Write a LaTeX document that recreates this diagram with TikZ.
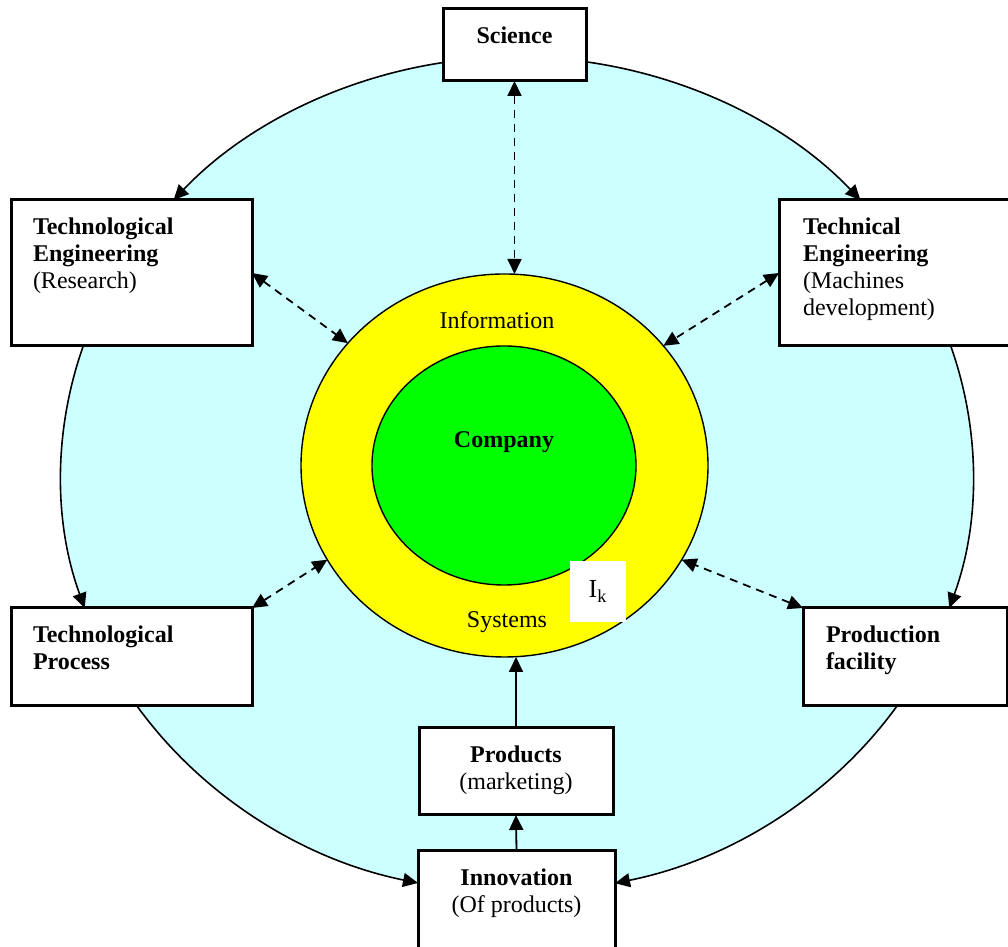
\documentclass[tikz,border=0pt]{standalone}
\usepackage{fontspec}
\setmainfont{Liberation Serif}
\usetikzlibrary{arrows.meta,shapes.geometric}

\definecolor{ringcyan}{RGB}{204,255,255}
\definecolor{infoyellow}{RGB}{255,255,0}
\definecolor{coregreen}{RGB}{0,255,0}

% width, height, alignment, text: first baseline sits 17.5pt under the top edge
\newcommand\boxtext[4]{\parbox[c][#2][t]{#1}{#3\rule{0pt}{17.5pt}#4}}

\begin{document}
\begin{tikzpicture}[x=0.5pt, y=0.5pt,
        font=\fontsize{12}{13.5}\selectfont,
        box/.style={draw, line width=1.5pt, fill=white, inner sep=0pt, outer sep=0pt},
        layer/.style={ellipse, draw, line width=0.7pt, inner sep=0pt, outer sep=0pt},
        loop/.style={line width=0.8pt, -{Triangle[length=7.5pt,width=7pt]}},
        link/.style={line width=0.9pt, dash pattern=on 4pt off 3pt,
            {Triangle[length=7.5pt,width=7pt]}-{Triangle[length=7.5pt,width=7pt]}},
        feed/.style={line width=0.9pt, -{Triangle[length=7.5pt,width=7pt]}}
    ]
        \useasboundingbox (0,0) rectangle (1008,947);

        \node[ellipse, fill=ringcyan, minimum width=456pt, minimum height=418pt, inner sep=0pt] (ring) at (517,472) {};
        \node[layer, fill=infoyellow, minimum width=203.5pt, minimum height=191.5pt] (info) at (504.5,481.5) {};
        \node[layer, fill=coregreen, minimum width=132pt, minimum height=119.5pt] (core) at (504,481.5) {};
        \node[fill=white, minimum width=28pt, minimum height=30.5pt, inner sep=0pt, font=\fontsize{13}{14}\selectfont] (ik) at (598,355.5) {I\textsubscript{k}};

        \node[anchor=base] (infolbl) at (497,618) {Information};
        \node[anchor=base] (syslbl) at (507,319) {Systems};
        \node[anchor=base, font=\fontsize{12}{13.5}\selectfont\bfseries] (corelbl) at (504,499) {Company};

        \node[box] (sci) at (514.5,902) {\boxtext{71.5pt}{36pt}{\centering}{\textbf{Science}}};
        \node[box] (teng) at (131.5,674) {\boxtext{120.5pt}{73pt}{\raggedright\leftskip=11pt}{\textbf{Technological\\Engineering}\\(Research)}};
        \node[box] (tech) at (895.5,674) {\boxtext{116.5pt}{73pt}{\raggedright\leftskip=12pt}{\textbf{Technical\\Engineering}\\(Machines\\development)}};
        \node[box] (tproc) at (131.5,290) {\boxtext{120.5pt}{49pt}{\raggedright\leftskip=11pt}{\textbf{Technological\\Process}}};
        \node[box] (prodf) at (905,290) {\boxtext{102pt}{49pt}{\raggedright\leftskip=11.5pt}{\textbf{Production\\facility}}};
        \node[box] (prods) at (516,175.5) {\boxtext{97pt}{43.5pt}{\centering}{\textbf{Products}\\(marketing)}};
        \node[box] (innov) at (516.5,45.5) {\boxtext{98.5pt}{50.5pt}{\centering}{\textbf{Innovation}\\(Of products)}};

        % outer cycle, each arc runs along the ring from one box to the next
        \foreach \s/\e [count=\i] in {99.3/138.86, 81.3/41.14, 162/198.55, 18/-18.55, 213.55/257.46, -33.55/-77.59} {
            \path (ring.center) ++(\s:456 and 418) coordinate (arc\i);
            \draw[loop] (arc\i) arc[start angle=\s, end angle=\e, x radius=456, y radius=418];
        }

        \draw[link] (sci.south) -- (sci.south |- info.north);
        \draw[link] (teng.east) -- (info.142);
        \draw[link] (tech.west) -- (info.37.5);
        \draw[link] (tproc.north east) -- (info.208);
        \draw[link] (prodf.north west) -- (info.332);

        \draw[feed] (innov.north) -- (prods.south);
        \draw[feed] (prods.north) -- (prods.north |- info.south);
    \end{tikzpicture}
\end{document}
